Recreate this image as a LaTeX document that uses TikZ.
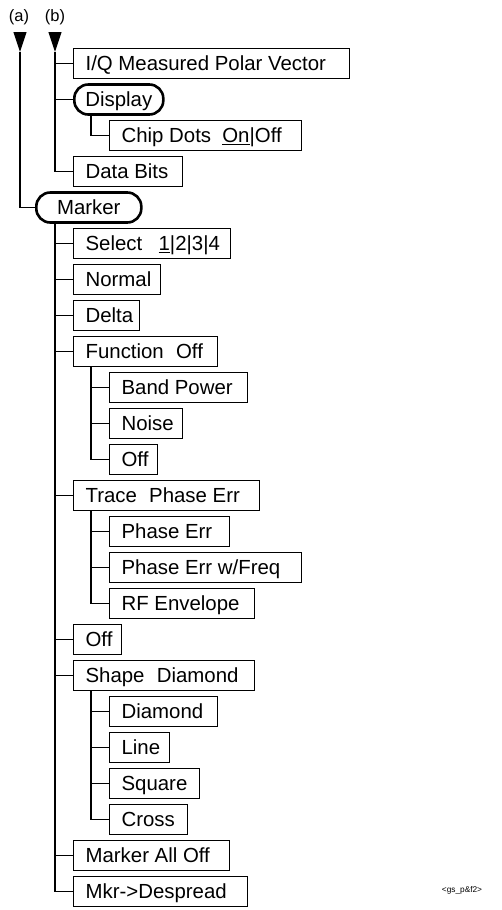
\documentclass[tikz,border=0pt]{standalone}
\usepackage{fontspec}
\setmainfont{Liberation Sans}
\usetikzlibrary{arrows.meta}
\newcommand\bxt[2]{\makebox[#1pt][l]{\hspace{12pt}#2}}
\newcommand\rbt[2]{\makebox[#1pt][c]{#2}}
\begin{document}
\begin{tikzpicture}[x=1pt,y=-1pt,
  bx/.style={draw, line width=1.2pt, anchor=west, minimum height=30pt, inner xsep=0pt, inner ysep=0pt, text height=14.6pt, text depth=1pt, font=\fontsize{20.4}{24}\selectfont},
  rb/.style={bx, line width=2.6pt, rounded corners=14pt, minimum height=30pt},
  ln/.style={line width=1.2pt},
  arr/.style={line width=1.2pt, -{Triangle[length=20pt,width=13pt]}},
  lab/.style={font=\fontsize{16.5}{19}\selectfont, inner sep=0pt}]
\useasboundingbox (0,0) rectangle (502,910);
% labels and arrows
\node[lab] (la) at (19,17) {(a)};
\node[lab] (lb) at (55,17) {(b)};
\coordinate (atop) at (20,32);
\coordinate (atip) at (20,52);
\coordinate (btop) at (55,32);
\coordinate (btip) at (55,52);
\draw[arr] (atop) -- (atip);
\draw[arr] (btop) -- (btip);
% first group
\node[bx] (iq) at (73,63.5) {\bxt{276}{I/Q Measured Polar Vector}};
\node[rb] (display) at (73,99.5) {\rbt{89}{Display}};
\node[bx] (chip) at (109,135.5) {\bxt{192}{Chip Dots\hspace{0.55em}\underline{On}|Off}};
\node[bx] (data) at (73,171.5) {\bxt{109}{Data Bits}};
\node[rb] (marker) at (35,207.5) {\rbt{105}{Marker}};
% marker children
\node[bx] (select) at (73,243.5) {\bxt{157}{Select\hspace{0.8em}\underline{1}|2|3|4}};
\node[bx] (normal) at (73,279.5) {\bxt{87}{Normal}};
\node[bx] (delta) at (73,315.5) {\bxt{66}{Delta}};
\node[bx] (func) at (73,351.5) {\bxt{144}{Function\hspace{0.6em}Off}};
\node[bx] (band) at (109,387.5) {\bxt{138}{Band Power}};
\node[bx] (noise) at (109,423.5) {\bxt{73}{Noise}};
\node[bx] (offa) at (109,459.5) {\bxt{48}{Off}};
\node[bx] (trace) at (73,495.5) {\bxt{186}{Trace\hspace{0.6em}Phase Err}};
\node[bx] (pe) at (109,531.5) {\bxt{120}{Phase Err}};
\node[bx] (pewf) at (109,567.5) {\bxt{192}{Phase Err w/Freq}};
\node[bx] (rf) at (109,603.5) {\bxt{145}{RF Envelope}};
\node[bx] (offb) at (73,639.5) {\bxt{48}{Off}};
\node[bx] (shape) at (73,675.5) {\bxt{181}{Shape\hspace{0.6em}Diamond}};
\node[bx] (diamond) at (109,711.5) {\bxt{108}{Diamond}};
\node[bx] (line) at (109,747.5) {\bxt{60}{Line}};
\node[bx] (square) at (109,783.5) {\bxt{90}{Square}};
\node[bx] (cross) at (109,819.5) {\bxt{78}{Cross}};
\node[bx] (mao) at (73,855.5) {\bxt{156}{Marker All Off}};
\node[bx] (mkr) at (73,891.5) {\bxt{174}{Mkr->Despread}};
\node[inner sep=0pt, font=\fontsize{8.3}{10}\selectfont] (gs) at (462,890) {<gs\_p\&f2>};
% connectors
\draw[ln] (atip) |- (marker.west);
\draw[ln] (btip) |- (data.west);
\foreach \n in {iq,display} \draw[ln] (\n.west) -- (\n.west -| btip);
\coordinate (dt) at (91,115);
\draw[ln] (dt) |- (chip.west);
\coordinate (mt) at (55,223);
\draw[ln] (mt) |- (mkr.west);
\foreach \n in {select,normal,delta,func,trace,offb,shape,mao} \draw[ln] (\n.west) -- (\n.west -| mt);
\coordinate (ft) at (91,366.5);
\draw[ln] (ft) |- (offa.west);
\foreach \n in {band,noise} \draw[ln] (\n.west) -- (\n.west -| ft);
\coordinate (tt) at (91,510.5);
\draw[ln] (tt) |- (rf.west);
\foreach \n in {pe,pewf} \draw[ln] (\n.west) -- (\n.west -| tt);
\coordinate (st) at (91,690.5);
\draw[ln] (st) |- (cross.west);
\foreach \n in {diamond,line,square} \draw[ln] (\n.west) -- (\n.west -| st);
\end{tikzpicture}
\end{document}
